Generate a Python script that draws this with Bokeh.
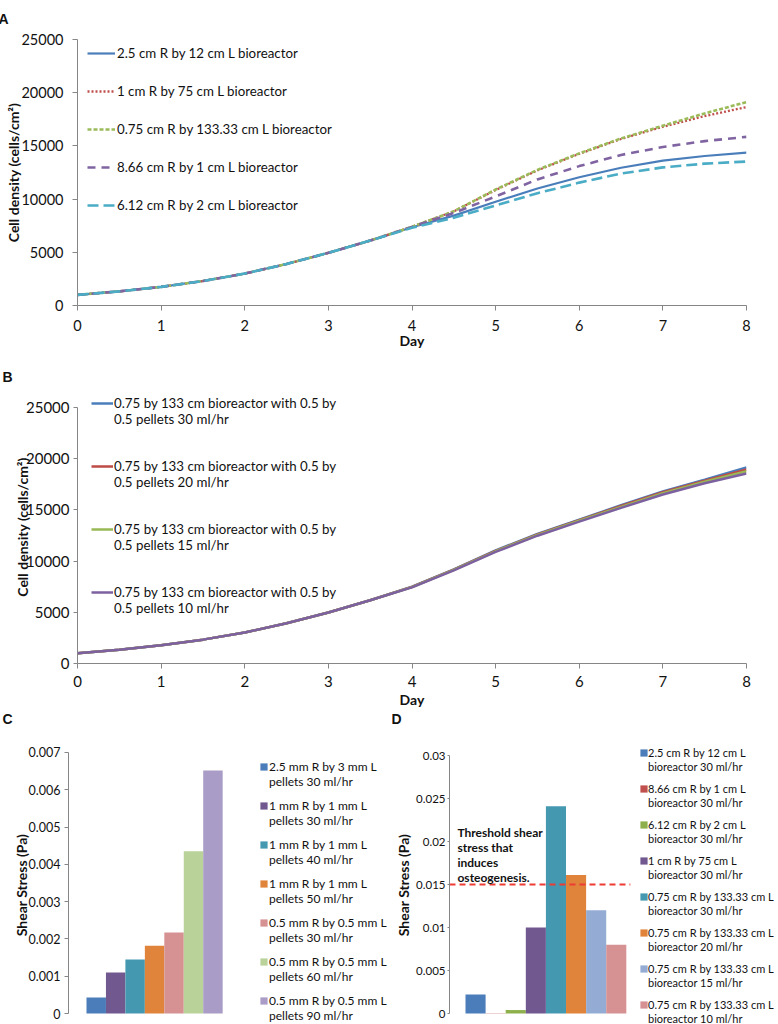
from bokeh.plotting import figure
from bokeh.layouts import column, row
from bokeh.models import (ColumnDataSource, Legend, LegendItem, Label, Title,
                          Range1d, FixedTicker)
from bokeh.embed import file_html
from bokeh.resources import INLINE

FONT = "Lato"
AXIS_GREY = "#868686"
TXT = "#111111"

# ---------------- data ----------------
days = [0, 0.5, 1, 1.5, 2, 2.5, 3, 3.5, 4, 4.5, 5, 5.5, 6, 6.5, 7, 7.5, 8]
day_ticks = [0, 1, 2, 3, 4, 5, 6, 7, 8]
density_ticks = [0, 5000, 10000, 15000, 20000, 25000]

# Panel A: cell density per bioreactor geometry
a_labels = ["2.5 cm R by 12 cm L bioreactor",
            "1 cm R by 75 cm L bioreactor",
            "0.75 cm R by 133.33 cm L bioreactor",
            "8.66 cm R by 1 cm L bioreactor",
            "6.12 cm R by 2 cm L bioreactor"]
a_r25_l12 = [1000, 1330, 1750, 2300, 3000, 3900, 4950, 6100, 7350,
             8450, 9750, 11000, 12050, 12950, 13620, 14050, 14370]
a_r1_l75 = [1000, 1330, 1750, 2300, 3000, 3900, 4950, 6100, 7400,
            8850, 10850, 12700, 14250, 15650, 16800, 17800, 18650]
a_r075_l133 = [1000, 1330, 1750, 2300, 3000, 3900, 4950, 6100, 7400,
               8850, 10900, 12750, 14300, 15700, 16900, 18050, 19120]
a_r866_l1 = [1000, 1330, 1750, 2300, 3000, 3900, 4950, 6100, 7380,
             8700, 10250, 11850, 13100, 14150, 14900, 15450, 15850]
a_r612_l2 = [1000, 1330, 1750, 2300, 3000, 3900, 4950, 6100, 7300,
             8250, 9400, 10550, 11550, 12400, 12980, 13330, 13530]

# Panel B: 0.75 x 133 cm bioreactor with pellets, different flow rates
b_labels = ["0.75 by 133 cm bioreactor with 0.5 by\n0.5 pellets 30 ml/hr",
            "0.75 by 133 cm bioreactor with 0.5 by\n0.5 pellets 20 ml/hr",
            "0.75 by 133 cm bioreactor with 0.5 by\n0.5 pellets 15 ml/hr",
            "0.75 by 133 cm bioreactor with 0.5 by\n0.5 pellets 10 ml/hr"]
b_30 = [1000, 1350, 1780, 2330, 3030, 3930, 4980, 6180, 7500,
        9200, 11050, 12650, 14050, 15450, 16800, 17950, 19150]
b_20 = [1000, 1350, 1780, 2330, 3030, 3930, 4980, 6180, 7480,
        9170, 11000, 12600, 14000, 15380, 16720, 17850, 18950]
b_15 = [1000, 1350, 1780, 2330, 3030, 3930, 4980, 6180, 7460,
        9140, 10960, 12550, 13940, 15300, 16630, 17750, 18780]
b_10 = [1000, 1350, 1780, 2330, 3030, 3930, 4980, 6180, 7430,
        9100, 10900, 12480, 13850, 15200, 16500, 17600, 18550]

# Panel C: shear stress on pellets
c_labels = ["2.5 mm R by 3 mm L\npellets 30 ml/hr",
            "1 mm R by 1 mm L\npellets 30 ml/hr",
            "1 mm R by 1 mm L\npellets 40 ml/hr",
            "1 mm R by 1 mm L\npellets 50 ml/hr",
            "0.5 mm R by 0.5 mm L\npellets 30 ml/hr",
            "0.5 mm R by 0.5 mm L\npellets 60 ml/hr",
            "0.5 mm R by 0.5 mm L\npellets 90 ml/hr"]
c_stress = [0.00043, 0.0011, 0.00145, 0.00182, 0.00217, 0.00435, 0.00652]
c_colors = ["#4A7DBA", "#71598F", "#4499B0", "#E0843C", "#D69193", "#B9D29A", "#A99CC6"]
c_ticks = [0, 0.001, 0.002, 0.003, 0.004, 0.005, 0.006, 0.007]

# Panel D: shear stress in bioreactors
d_labels = ["2.5 cm R by 12 cm L\nbioreactor 30 ml/hr",
            "8.66 cm R by 1 cm L\nbioreactor 30 ml/hr",
            "6.12 cm R by 2 cm L\nbioreactor 30 ml/hr",
            "1 cm R by 75 cm L\nbioreactor 30 ml/hr",
            "0.75 cm R by 133.33 cm L\nbioreactor 30 ml/hr",
            "0.75 cm R by 133.33 cm L\nbioreactor 20 ml/hr",
            "0.75 cm R by 133.33 cm L\nbioreactor 15 ml/hr",
            "0.75 cm R by 133.33 cm L\nbioreactor 10 ml/hr"]
d_stress = [0.0022, 0.00004, 0.0004, 0.01, 0.0241, 0.0161, 0.012, 0.008]
d_colors = ["#4A7DBA", "#C0504D", "#8DB04D", "#71598F", "#4499B0", "#E0843C", "#94ACD3", "#D69193"]
d_ticks = [0, 0.005, 0.01, 0.015, 0.02, 0.025, 0.03]
threshold = 0.015
threshold_note = ["Threshold shear", "stress that", "induces", "osteogenesis."]


def base_style(p):
    p.xgrid.visible = False
    p.ygrid.visible = False
    p.outline_line_color = None
    p.background_fill_color = "white"
    p.border_fill_color = "white"
    for ax in p.axis:
        ax.axis_line_color = AXIS_GREY
        ax.major_tick_line_color = AXIS_GREY
        ax.minor_tick_line_color = None
        ax.major_tick_in = 0
        ax.major_label_text_font = FONT
        ax.major_label_text_color = TXT
        ax.axis_label_text_font = FONT
        ax.axis_label_text_font_style = "bold"
        ax.axis_label_text_color = TXT


def letter(p, t, offset, standoff):
    p.title = Title(text=t, align="left", vertical_align="top", offset=offset,
                    standoff=standoff, text_font="Liberation Sans",
                    text_font_style="bold", text_font_size="14px", text_color=TXT)


def legend(items, **kw):
    return Legend(items=items, padding=0, margin=0, border_line_color=None,
                  background_fill_alpha=0, label_text_font=FONT,
                  label_text_color=TXT, **kw)


def top_line_label(text):
    # a blank first line keeps the legend glyph level with the first text line
    return "\n" + text


def two_line_legend(p, renderer, labels, vx, vy, line_gap, item_h, spacing, font_size,
                    standoff):
    first = [l.split("\n")[0] for l in labels]
    second = [l.split("\n")[1] for l in labels]
    leg1 = legend([LegendItem(label=t, renderers=[renderer], index=i) for i, t in enumerate(first)],
                  location=(vx, vy), glyph_width=9, glyph_height=9, label_height=item_h,
                  spacing=spacing, label_standoff=standoff, label_text_font_size=font_size)
    leg2 = legend([LegendItem(label=t, renderers=[renderer], index=i) for i, t in enumerate(second)],
                  location=(vx, vy - line_gap), glyph_width=0, glyph_height=9,
                  label_height=item_h, spacing=spacing, label_standoff=9 + standoff,
                  label_text_font_size=font_size)
    p.add_layout(leg1, "center")
    p.add_layout(leg2, "center")


# ---------------- Panel A ----------------
pA = figure(width=778, height=353, x_range=Range1d(0, 8), y_range=Range1d(0, 25000),
            output_backend="svg", toolbar_location=None,
            min_border_left=77, min_border_right=26, min_border_top=37, min_border_bottom=48)
letter(pA, "A", -79, 21)
base_style(pA)
srcA = ColumnDataSource(dict(day=days, s1=a_r25_l12, s2=a_r1_l75, s3=a_r075_l133,
                             s4=a_r866_l1, s5=a_r612_l2))
rA = [
    pA.line("day", "s1", source=srcA, line_color="#4A7EBB", line_width=2.2),
    pA.line("day", "s2", source=srcA, line_color="#C0504D", line_width=2.3, line_dash="2 2"),
    pA.line("day", "s3", source=srcA, line_color="#9BBB59", line_width=2.6, line_dash="4 2"),
    pA.line("day", "s4", source=srcA, line_color="#8064A2", line_width=2.6, line_dash="8 6"),
    pA.line("day", "s5", source=srcA, line_color="#4BACC6", line_width=2.6, line_dash="11 5"),
]
pA.xaxis.ticker = FixedTicker(ticks=day_ticks)
pA.yaxis.ticker = FixedTicker(ticks=density_ticks)
pA.xaxis.axis_label = "Day"
pA.yaxis.axis_label = "Cell density (cells/cm\u00b2)"
pA.xaxis.major_tick_out = 5
pA.yaxis.major_tick_out = 5
pA.xaxis.major_label_standoff = 9
pA.yaxis.major_label_standoff = 9
pA.xaxis.major_label_text_font_size = "14.5px"
pA.yaxis.major_label_text_font_size = "14.5px"
pA.xaxis.axis_label_text_font_size = "14px"
pA.yaxis.axis_label_text_font_size = "14px"
pA.xaxis.axis_label_standoff = -2
pA.yaxis.axis_label_standoff = -4
legA = legend([LegendItem(label=l, renderers=[r]) for l, r in zip(a_labels, rA)],
              location=(10, 90), glyph_width=28, glyph_height=20, label_height=20,
              spacing=18, label_standoff=2, label_text_font_size="13.3px")
pA.add_layout(legA, "center")

# ---------------- Panel B ----------------
pB = figure(width=778, height=357, x_range=Range1d(0, 8), y_range=Range1d(0, 26660),
            output_backend="svg", toolbar_location=None,
            min_border_left=71, min_border_right=32, min_border_top=37, min_border_bottom=47)
letter(pB, "B", -75, 8)
base_style(pB)
srcB = ColumnDataSource(dict(day=days, f30=b_30, f20=b_20, f15=b_15, f10=b_10))
rB = [
    pB.line("day", "f30", source=srcB, line_color="#4A7EBB", line_width=2.5),
    pB.line("day", "f20", source=srcB, line_color="#BE4B48", line_width=2.5),
    pB.line("day", "f15", source=srcB, line_color="#98B954", line_width=2.5),
    pB.line("day", "f10", source=srcB, line_color="#7D60A0", line_width=2.5),
]
pB.xaxis.ticker = FixedTicker(ticks=day_ticks)
pB.yaxis.ticker = FixedTicker(ticks=density_ticks)
pB.yaxis.bounds = (0, 25000)
pB.xaxis.axis_label = "Day"
pB.yaxis.axis_label = "Cell density (cells/cm\u00b2)"
pB.xaxis.major_tick_out = 5
pB.yaxis.major_tick_out = 4
pB.xaxis.major_label_standoff = 7
pB.yaxis.major_label_standoff = 4
pB.xaxis.major_label_text_font_size = "15px"
pB.yaxis.major_label_text_font_size = "15px"
pB.xaxis.axis_label_text_font_size = "14px"
pB.yaxis.axis_label_text_font_size = "14px"
pB.xaxis.axis_label_standoff = 1
pB.yaxis.axis_label_standoff = -8
legB = legend([LegendItem(label=top_line_label(l), renderers=[r]) for l, r in zip(b_labels, rB)],
              location=(14, 47), glyph_width=22, glyph_height=16, label_height=16,
              spacing=15, label_standoff=1, label_text_font_size="13.3px")
pB.add_layout(legB, "center")

# ---------------- Panel C ----------------
pC = figure(width=392, height=314, x_range=Range1d(-1.425, 15.23),
            y_range=Range1d(-0.000295, 0.0071877),
            output_backend="svg", toolbar_location=None, x_axis_location=None,
            min_border_left=68, min_border_right=0, min_border_top=35, min_border_bottom=0)
letter(pC, "C\n", -66, 1)
base_style(pC)
srcC = ColumnDataSource(dict(x=list(range(len(c_stress))), top=c_stress, color=c_colors))
rC = pC.vbar(x="x", top="top", bottom=0, width=1.0, source=srcC, fill_color="color", line_color=None)
pC.yaxis.ticker = FixedTicker(ticks=c_ticks)
pC.yaxis.bounds = (0, 0.007)
pC.yaxis.major_label_overrides = {t: format(t, "g") for t in c_ticks}
pC.yaxis.axis_label = "Shear Stress (Pa)"
pC.yaxis.major_tick_out = 4
pC.yaxis.major_label_standoff = 4
pC.yaxis.major_label_text_font_size = "12.5px"
pC.yaxis.axis_label_text_font_size = "14px"
pC.yaxis.axis_label_standoff = -4
two_line_legend(pC, rC, c_labels, vx=191, vy=16, line_gap=15, item_h=15, spacing=24,
                font_size="12px", standoff=1)

# ---------------- Panel D ----------------
pD = figure(width=386, height=314, x_range=Range1d(-1.296, 15.07),
            y_range=Range1d(-0.001279, 0.031163),
            output_backend="svg", toolbar_location=None, x_axis_location=None,
            min_border_left=57, min_border_right=0, min_border_top=35, min_border_bottom=0)
letter(pD, "D\n", -58, 1)
base_style(pD)
srcD = ColumnDataSource(dict(x=list(range(len(d_stress))), top=d_stress, color=d_colors))
rD = pD.vbar(x="x", top="top", bottom=0, width=1.0, source=srcD, fill_color="color", line_color=None)
pD.yaxis.ticker = FixedTicker(ticks=d_ticks)
pD.yaxis.bounds = (0, 0.03)
pD.yaxis.major_label_overrides = {t: format(t, "g") for t in d_ticks}
pD.yaxis.axis_label = "Shear Stress (Pa)"
pD.yaxis.major_tick_out = 2
pD.yaxis.major_label_standoff = 2
pD.yaxis.major_label_text_font_size = "11.5px"
pD.yaxis.axis_label_text_font_size = "14px"
pD.yaxis.axis_label_standoff = 1
thr_x = [pD.x_range.start, len(d_stress) - 0.3]
pD.line(x=thr_x, y=[threshold, threshold], line_color="#EE3B33", line_dash="6 4", line_width=2)
note_top = 0.02105           # centre of the first note line
note_step = 15 * 0.03 / 258  # 15 px per line in data units
for i, t in enumerate(threshold_note):
    pD.add_layout(Label(x=-0.9, y=note_top - i * note_step, text=t,
                        text_font=FONT, text_font_style="bold", text_font_size="12px",
                        text_color=TXT, text_baseline="middle", text_align="left"))
two_line_legend(pD, rD, d_labels, vx=190, vy=13, line_gap=14, item_h=13, spacing=23,
                font_size="11px", standoff=0)

layout = column(pA, pB, row(pC, pD, spacing=0), spacing=0)
open("out.html", "w").write(file_html(layout, INLINE))
